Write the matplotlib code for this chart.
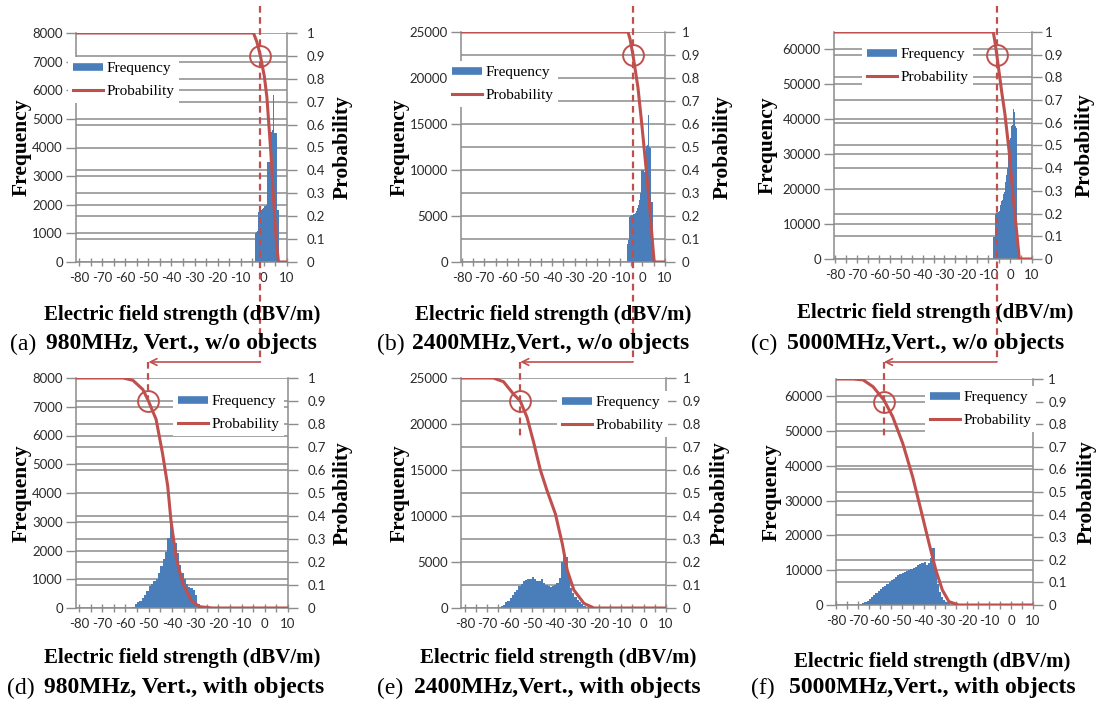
import numpy as np
import matplotlib
matplotlib.use('Agg')
import matplotlib.pyplot as plt
from matplotlib.lines import Line2D
from matplotlib.patches import FancyArrowPatch

# ---------------- data ----------------
# histogram bins: start of first bin (dBV/m), bin width, frequencies
a_bin_start, a_bin_width = -4.0, 0.5
a_freq = [1000, 1050, 1100, 1750, 1800, 1800, 1850, 1900, 1950, 1950, 2000,
          3500, 3500, 4500, 4550, 4600, 5850, 4500, 4500, 1800, 1800]
a_prob_x = [-82, -4.5, -3.0, -1.5, 0.2, 1.3, 3.0, 4.2, 5.3, 6.3, 10]
a_prob_p = [1, 1, 0.96, 0.9, 0.81, 0.72, 0.48, 0.27, 0.1, 0, 0]
a_p90 = -1.5

b_bin_start, b_bin_width = -7.0, 0.5
b_freq = [2000, 2400, 4900, 5000, 5100, 5100, 5200, 5300, 5500, 5900, 6200, 6700,
          7500, 10000, 10000, 9800, 10200, 12600, 12700, 16000, 12500, 12400, 6500, 500]
b_prob_x = [-82, -6.4, -5.5, -4.2, -2.0, -0.5, 1.7, 3.2, 4.5, 5.2, 10]
b_prob_p = [1, 1, 0.97, 0.9, 0.76, 0.62, 0.4, 0.24, 0.08, 0, 0]
b_p90 = -4.2

c_bin_start, c_bin_width = -7.75, 0.5
c_freq = [6400, 6400, 13000, 13300, 13500, 13800, 15500, 16500, 17000, 18500, 19300, 22000,
          24000, 26000, 34000, 34700, 38000, 38400, 43000, 42000, 38000, 37500, 3000, 2500]
c_prob_x = [-82, -7.7, -7.0, -6.1, -3.9, -2.4, -0.4, 1.4, 3.2, 4.2, 10]
c_prob_p = [1, 1, 0.96, 0.9, 0.74, 0.64, 0.47, 0.27, 0.1, 0, 0]
c_p90 = -6.1

d_bin_start, d_bin_width = -57.0, 1.0
d_freq = [50, 150, 200, 250, 340, 460, 600, 760, 850, 930, 1000, 1230, 1450, 1700, 1960,
          2450, 2950, 2550, 2250, 1900, 1500, 1230, 1000, 850, 740, 680, 620, 450, 150]
d_prob_x = [-82, -61, -56.8, -52.5, -50.1, -46.8, -44.0, -41.8, -40.4, -38.2, -35.4,
            -31.8, -28.3, -22.6, 10]
d_prob_p = [1, 1, 0.99, 0.95, 0.90, 0.82, 0.67, 0.53, 0.38, 0.22, 0.11, 0.035, 0.006, 0, 0]
d_p90 = -50.1

e_bin_start, e_bin_width = -65.0, 1.0
e_freq = [150, 250, 350, 600, 800, 1050, 1450, 1700, 2000, 2350, 2600, 2900, 3000, 3100,
          3200, 3350, 3100, 2950, 2900, 3100, 2700, 2500, 2350, 2300, 2350, 2450, 2700,
          3300, 5000, 6200, 5500, 3500, 2200, 1600, 1150, 850, 600, 400, 200, 80]
e_prob_x = [-82, -67.3, -62.7, -58.2, -55.2, -52.2, -49.2, -46.2, -43.2, -39.5, -36.4,
            -34.2, -31.2, -26.7, -22.2, 10]
e_prob_p = [1, 1, 0.984, 0.93, 0.90, 0.83, 0.72, 0.60, 0.51, 0.41, 0.28, 0.165, 0.078,
            0.02, 0, 0]
e_p90 = -55.2

f_bin_start, f_bin_width = -69.0, 1.0
f_freq = [300, 500, 800, 1100, 1600, 2200, 2800, 3400, 3900, 4500, 5100, 5600, 6100, 6600,
          7200, 7600, 8000, 8500, 8800, 9300, 9500, 9700, 10000, 10400, 10700, 11000, 11400,
          11700, 12200, 12500, 11500, 12000, 13500, 16300, 10000, 6000, 3800, 2200, 1400,
          900, 450]
f_prob_x = [-80, -72.2, -67.6, -63.1, -58.1, -54.1, -49.5, -45.0, -41.2, -37.5, -34.4,
            -31.4, -28.4, -23.9, 10]
f_prob_p = [1, 1, 0.996, 0.966, 0.907, 0.833, 0.715, 0.568, 0.42, 0.273, 0.155, 0.066,
            0.015, 0, 0]
f_p90 = -58.1

freq_max = {'a': 8000, 'b': 25000, 'c': 65000, 'd': 8000, 'e': 25000, 'f': 65000}
freq_step = {'a': 1000, 'b': 5000, 'c': 10000, 'd': 1000, 'e': 5000, 'f': 10000}
x_ticks = [-80, -70, -60, -50, -40, -30, -20, -10, 0, 10]
prob_ticks = [0, 0.1, 0.2, 0.3, 0.4, 0.5, 0.6, 0.7, 0.8, 0.9, 1]

captions = {
    'a': ('(a)', '980MHz, Vert., w/o objects'),
    'b': ('(b)', '2400MHz,Vert., w/o objects'),
    'c': ('(c)', '5000MHz,Vert., w/o objects'),
    'd': ('(d)', '980MHz, Vert., with objects'),
    'e': ('(e)', '2400MHz,Vert., with objects'),
    'f': ('(f)', '5000MHz,Vert., with objects'),
}

data = {
    'a': (a_bin_start, a_bin_width, a_freq, a_prob_x, a_prob_p, a_p90),
    'b': (b_bin_start, b_bin_width, b_freq, b_prob_x, b_prob_p, b_p90),
    'c': (c_bin_start, c_bin_width, c_freq, c_prob_x, c_prob_p, c_p90),
    'd': (d_bin_start, d_bin_width, d_freq, d_prob_x, d_prob_p, d_p90),
    'e': (e_bin_start, e_bin_width, e_freq, e_prob_x, e_prob_p, e_p90),
    'f': (f_bin_start, f_bin_width, f_freq, f_prob_x, f_prob_p, f_p90),
}

# ---------------- layout (pixels) ----------------
W, H = 1097, 706
BLUE = '#4a7ebb'
RED = '#c0504d'
GRID = '#8c8c8c'
TICKC = '#2b2b2b'
SERIF = 'Liberation Serif'
SANS = 'Lato'

layout = {
    'a': dict(box=(76, 287, 33, 262), xmin=-81.3, ylab=22, plab=343, xl=(182, 315),
              cap=(10, 344, 46), leg=(68, 57), rpad=7),
    'b': dict(box=(461, 665, 32, 262), xmin=-80.4, ylab=400, plab=723, xl=(553, 315),
              cap=(377, 344, 412), leg=(447, 61), rpad=5),
    'c': dict(box=(834, 1032, 32, 259), xmin=-80.5, ylab=768, plab=1085, xl=(935, 313),
              cap=(751, 344, 787), leg=(862, 43), rpad=2),
    'd': dict(box=(76, 288, 378, 608), xmin=-81.3, ylab=22, plab=343, xl=(182, 658),
              cap=(7, 688, 44), leg=(173, 390), rpad=7),
    'e': dict(box=(461, 666, 378, 608), xmin=-81.7, ylab=400, plab=720, xl=(558, 658),
              cap=(377, 688, 414), leg=(557, 391), rpad=5),
    'f': dict(box=(836, 1033, 379, 605), xmin=-80.0, ylab=772, plab=1087, xl=(932, 662),
              cap=(751, 688, 789), leg=(925, 386), rpad=4),
}

fig = plt.figure(figsize=(W / 100, H / 100), dpi=100)


def fxy(px, py):
    return px / W, 1 - py / H


p90_pix = {}
for key in 'abcdef':
    L = layout[key]
    l, r, t, b = L['box']
    ax = fig.add_axes([l / W, 1 - b / H, (r - l) / W, (b - t) / H])
    start, width, freq, px_, pp_, p90 = data[key]
    centers = start + width * (np.arange(len(freq)) + 0.5)
    ymax = freq_max[key]

    # gridlines of both axes (drawn beneath the bars)
    fticks = np.arange(0, ymax + 1, freq_step[key])
    for v in fticks:
        ax.axhline(v, color=GRID, lw=1.1, zorder=0.5)
    for p in prob_ticks:
        if np.min(np.abs(fticks - p * ymax)) > 0.012 * ymax:
            ax.axhline(p * ymax, color=GRID, lw=1.1, zorder=0.5)

    ax.bar(centers, freq, width=width, color=BLUE, linewidth=0, zorder=2)
    ax.set_xlim(L['xmin'], 10)
    ax.set_ylim(0, ymax)
    ax.set_xticks(x_ticks)
    ax.set_xticks(np.arange(-80, 11, 5), minor=True)
    ax.set_xticklabels([str(v) for v in x_ticks])
    ax.set_yticks(fticks)
    ax.tick_params(axis='x', which='both', direction='inout', length=6, width=1,
                   color=GRID, pad=4, labelsize=9.5, labelcolor=TICKC)
    ax.tick_params(axis='y', direction='out', length=7, width=1, color=GRID, pad=2.5,
                   labelsize=9.5, labelcolor=TICKC)
    for lab in ax.get_xticklabels() + ax.get_yticklabels():
        lab.set_family(SANS)
    for s in ['top', 'right']:
        ax.spines[s].set_visible(False)
    for s in ['left', 'bottom']:
        ax.spines[s].set_color(GRID)
        ax.spines[s].set_linewidth(1.1)

    ax2 = ax.twinx()
    ax2.plot(px_, pp_, color=RED, lw=2.2, zorder=3, solid_joinstyle='round')
    ax2.plot([p90], [0.9], marker='o', ms=15, mfc='none', mec=RED, mew=1.4, zorder=4)
    ax2.set_ylim(0, 1)
    ax2.set_yticks(prob_ticks)
    ax2.set_yticklabels(['%g' % p for p in prob_ticks])
    ax2.tick_params(axis='y', direction='out', length=7, width=1, color=GRID,
                    pad=L['rpad'], labelsize=9.5, labelcolor=TICKC)
    for lab in ax2.get_yticklabels():
        lab.set_family(SANS)
    for s in ['top', 'left', 'bottom']:
        ax2.spines[s].set_visible(False)
    ax2.spines['right'].set_color(GRID)
    ax2.spines['right'].set_linewidth(1.1)

    # pixel position of the 0.9 point
    disp = ax2.transData.transform((p90, 0.9))
    fig_px = fig.transFigure.inverted().transform(disp)
    p90_pix[key] = (fig_px[0] * W, (1 - fig_px[1]) * H)

    # axis labels
    cy = (t + b) / 2
    fig.text(*fxy(L['ylab'], cy), 'Frequency', rotation=90, ha='center', va='center',
             family=SERIF, fontsize=15.5, fontweight='bold')
    fig.text(*fxy(L['plab'], cy), 'Probability', rotation=90, ha='center', va='center',
             family=SERIF, fontsize=15.5, fontweight='bold')
    fig.text(*fxy(*L['xl']), 'Electric field strength (dBV/m)', ha='center', va='center',
             family=SERIF, fontsize=15, fontweight='bold')
    cx, cyy, bx = L['cap']
    fig.text(*fxy(cx, cyy), captions[key][0], ha='left', va='center', family=SERIF,
             fontsize=17)
    fig.text(*fxy(bx, cyy), captions[key][1], ha='left', va='center', family=SERIF,
             fontsize=17, fontweight='bold')

    # legend
    handles = [Line2D([], [], color=BLUE, lw=5.5, solid_capstyle='butt'),
               Line2D([], [], color=RED, lw=2.2)]
    lx, ly = L['leg']
    fig.legend(handles, ['Frequency', 'Probability'], loc='upper left',
               bbox_to_anchor=fxy(lx, ly), bbox_transform=fig.transFigure,
               frameon=True, facecolor='white', edgecolor='none', framealpha=1,
               fancybox=False, prop={'family': SERIF, 'size': 11}, handlelength=2.0,
               handletextpad=0.2, borderpad=0.3, labelspacing=0.6, borderaxespad=0)

# dashed guide lines and arrows between the rows
arrow_y = 362
bottom_end = {'d': 398, 'e': 437, 'f': 437}
for top, bot in [('a', 'd'), ('b', 'e'), ('c', 'f')]:
    xt = p90_pix[top][0]
    xb = p90_pix[bot][0]
    fig.add_artist(Line2D([xt / W, xt / W], [1 - 6 / H, 1 - arrow_y / H], color=RED,
                          lw=1.6, ls=(0, (3, 2)), transform=fig.transFigure))
    fig.add_artist(Line2D([xb / W, xb / W], [1 - arrow_y / H, 1 - bottom_end[bot] / H],
                          color=RED, lw=1.6, ls=(0, (3, 2)), transform=fig.transFigure))
    fig.add_artist(FancyArrowPatch(fxy(xt, arrow_y), fxy(xb, arrow_y),
                                   transform=fig.transFigure, arrowstyle='->',
                                   mutation_scale=12, color=RED, lw=1.2,
                                   shrinkA=0, shrinkB=0))

fig.savefig('out.png', dpi=100, facecolor='white')
